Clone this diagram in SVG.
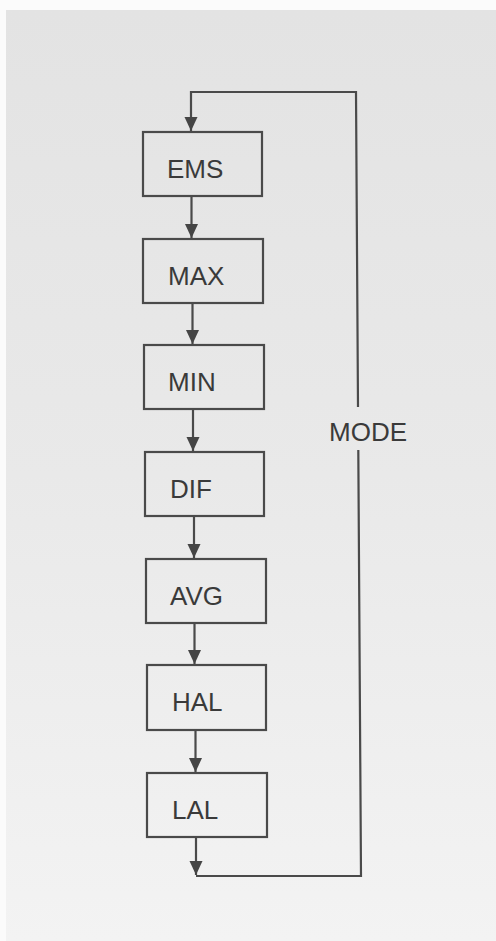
<svg xmlns="http://www.w3.org/2000/svg" width="496" height="941" viewBox="0 0 496 941">
  <defs>
    <linearGradient id="bg" x1="0" y1="0" x2="0" y2="1">
      <stop offset="0" stop-color="#e3e3e3"/>
      <stop offset="0.5" stop-color="#e9e9e9"/>
      <stop offset="1" stop-color="#f3f3f3"/>
    </linearGradient>
    <marker id="arr" markerUnits="userSpaceOnUse" markerWidth="15" markerHeight="14" viewBox="0 0 15 14" refX="14.5" refY="7" orient="auto">
      <path d="M0.5,0.5 L14.5,7 L0.5,13.5 Z" fill="#454545"/>
    </marker>
    <style>
      .box{fill:none;stroke:#4a4a4a;stroke-width:2.2}
      .lbl{font-family:"Liberation Sans",Arial,sans-serif;font-size:26px;fill:#3a3a3a}
      .ln{fill:none;stroke:#4a4a4a;stroke-width:2.2}
    </style>
  </defs>
  <rect width="496" height="941" fill="#fbfbfb"/>
  <rect x="6" y="10" width="490" height="931" fill="url(#bg)"/>

  <g id="connectors">
    <path class="ln" d="M191.5,196 L191.5,238" marker-end="url(#arr)"/>
    <path class="ln" d="M192.5,303 L192.5,344" marker-end="url(#arr)"/>
    <path class="ln" d="M193,409 L193,451" marker-end="url(#arr)"/>
    <path class="ln" d="M194,516 L194,558" marker-end="url(#arr)"/>
    <path class="ln" d="M194.5,623 L194.5,664" marker-end="url(#arr)"/>
    <path class="ln" d="M195.5,730 L195.5,772" marker-end="url(#arr)"/>
    <path class="ln" d="M196,837 L196,875" marker-end="url(#arr)"/>
    <path class="ln" d="M196,876 L361,876 L358.3,450"/>
    <path class="ln" d="M358,407 L356,92 L191,92 L191,131" marker-end="url(#arr)"/>
    <text class="lbl" x="329" y="441">MODE</text>
  </g>

  <g id="ems"><rect class="box" x="143" y="132" width="119" height="64"/><text class="lbl" x="167" y="178">EMS</text></g>
  <g id="max"><rect class="box" x="143" y="239" width="120" height="64"/><text class="lbl" x="168" y="285">MAX</text></g>
  <g id="min"><rect class="box" x="144" y="345" width="120" height="64"/><text class="lbl" x="168" y="391">MIN</text></g>
  <g id="dif"><rect class="box" x="145" y="452" width="119" height="64"/><text class="lbl" x="170" y="498">DIF</text></g>
  <g id="avg"><rect class="box" x="146" y="559" width="120" height="64"/><text class="lbl" x="170" y="605">AVG</text></g>
  <g id="hal"><rect class="box" x="147" y="665" width="119" height="65"/><text class="lbl" x="172" y="711">HAL</text></g>
  <g id="lal"><rect class="box" x="147" y="773" width="120" height="64"/><text class="lbl" x="172" y="819">LAL</text></g>
</svg>
